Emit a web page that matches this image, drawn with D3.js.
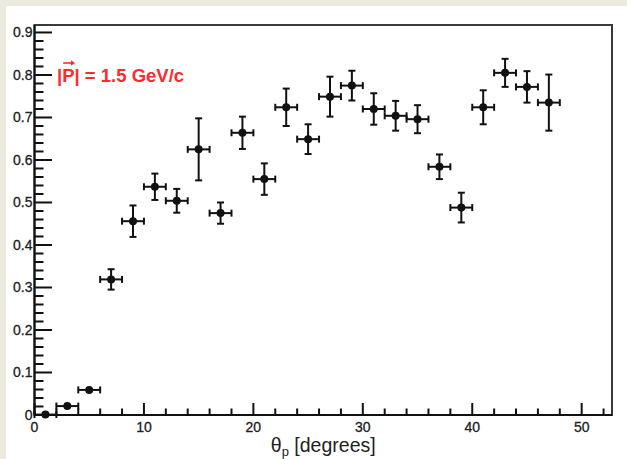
<!DOCTYPE html>
<html>
<head>
<meta charset="utf-8">
<script src="https://cdn.jsdelivr.net/npm/d3@7"></script>
<style>
  html, body { margin: 0; padding: 0; background: #ece9df; }
  svg { display: block; }
</style>
</head>
<body>
<svg id="chart" width="627" height="459"></svg>
<script>
// Polarisation-style ratio vs proton angle, 2-degree bins
const thetaCenters = [1, 3, 5, 7, 9, 11, 13, 15, 17, 19, 21, 23, 25, 27, 29, 31, 33, 35, 37, 39, 41, 43, 45, 47];
const binHalfWidth = [1, 1, 1, 1, 1, 1, 1, 1, 1, 1, 1, 1, 1, 1, 1, 1, 1, 1, 1, 1, 1, 1, 1, 1];
const values = [0.001, 0.021, 0.059, 0.319, 0.456, 0.537, 0.504, 0.625, 0.475, 0.664, 0.555, 0.724,
                0.649, 0.749, 0.775, 0.720, 0.704, 0.696, 0.584, 0.488, 0.724, 0.805, 0.772, 0.735];
const errors = [0.002, 0.004, 0.005, 0.024, 0.037, 0.031, 0.028, 0.073, 0.025, 0.038, 0.037, 0.044,
                0.035, 0.047, 0.035, 0.037, 0.035, 0.033, 0.029, 0.035, 0.040, 0.033, 0.037, 0.066];
const xTickValues = [0, 10, 20, 30, 40, 50];
const yTickValues = [0, 0.1, 0.2, 0.3, 0.4, 0.5, 0.6, 0.7, 0.8, 0.9];
const yTickLabels = ["0", "0.1", "0.2", "0.3", "0.4", "0.5", "0.6", "0.7", "0.8", "0.9"];
const momentumLabel = "|P| = 1.5 GeV/c";

const svg = d3.select("#chart");

// white pad
svg.append("rect").attr("x", 6).attr("y", 6).attr("width", 621).attr("height", 453).attr("fill", "#ffffff");

const frame = { left: 34.5, right: 612, top: 25, bottom: 415 };
const x = d3.scaleLinear().domain([0, 52.77]).range([frame.left, frame.right]);
const y = d3.scaleLinear().domain([0, 0.9176]).range([frame.bottom, frame.top]);

const ink = "#111";
const labelColor = "#222";
const font = "'Liberation Sans', Arial, Helvetica, sans-serif";

// frame
svg.append("rect")
  .attr("x", frame.left).attr("y", frame.top)
  .attr("width", frame.right - frame.left).attr("height", frame.bottom - frame.top)
  .attr("fill", "none").attr("stroke", "#3a3a3a").attr("stroke-width", 2);

// x axis: major every 10, minor every 2 (ticks point inward)
const xMinor = d3.range(0, 53, 2).filter(v => v % 10 !== 0);
const gx = svg.append("g").attr("stroke", ink).attr("stroke-width", 2);
gx.selectAll("line.maj").data(xTickValues).join("line")
  .attr("x1", d => x(d)).attr("x2", d => x(d))
  .attr("y1", frame.bottom).attr("y2", frame.bottom - 12);
gx.selectAll("line.min").data(xMinor).join("line")
  .attr("x1", d => x(d)).attr("x2", d => x(d))
  .attr("y1", frame.bottom).attr("y2", frame.bottom - 6.5);
svg.append("g").selectAll("text").data(xTickValues).join("text")
  .attr("x", d => x(d)).attr("y", frame.bottom + 17)
  .attr("text-anchor", "middle")
  .attr("font-family", font).attr("font-size", 14).attr("fill", labelColor)
  .attr("stroke", labelColor).attr("stroke-width", 0.3)
  .text(d => d);

// y axis: major every 0.1, minor every 0.02
const yMinor = d3.range(1, 46).map(i => i * 0.02).filter((v, i) => (i + 1) % 5 !== 0);
const gy = svg.append("g").attr("stroke", ink).attr("stroke-width", 2);
gy.selectAll("line.maj").data(yTickValues).join("line")
  .attr("x1", frame.left).attr("x2", frame.left + 17.5)
  .attr("y1", d => y(d)).attr("y2", d => y(d));
gy.selectAll("line.min").data(yMinor).join("line")
  .attr("x1", frame.left).attr("x2", frame.left + 9)
  .attr("y1", d => y(d)).attr("y2", d => y(d));
svg.append("g").selectAll("text").data(yTickValues).join("text")
  .attr("x", frame.left - 2).attr("y", d => y(d) + 5)
  .attr("text-anchor", "end")
  .attr("font-family", font).attr("font-size", 14).attr("fill", labelColor)
  .attr("stroke", labelColor).attr("stroke-width", 0.3)
  .text((d, i) => yTickLabels[i]);

// axis lines on top of the frame
svg.append("line").attr("x1", frame.left).attr("x2", frame.left)
  .attr("y1", frame.top).attr("y2", frame.bottom).attr("stroke", ink).attr("stroke-width", 2);
svg.append("line").attr("x1", frame.left).attr("x2", frame.right)
  .attr("y1", frame.bottom).attr("y2", frame.bottom).attr("stroke", ink).attr("stroke-width", 2);

// x axis title
const xTitle = svg.append("text")
  .attr("x", (frame.left + frame.right) / 2).attr("y", 452)
  .attr("text-anchor", "middle")
  .attr("font-family", font).attr("font-size", 19.5).attr("fill", labelColor);
xTitle.append("tspan").text("\u03b8");
xTitle.append("tspan").attr("font-size", 13).attr("dy", 4).text("p");
xTitle.append("tspan").attr("dy", -4).text(" [degrees]");

// data points with error bars
const points = thetaCenters.map((t, i) => ({ t, v: values[i], e: errors[i], w: binHalfWidth[i] }));
const markerR = 4;
const cap = 3.5;
const gp = svg.append("g").attr("stroke", ink).attr("stroke-width", 2).attr("fill", ink);
points.forEach(p => {
  const cx = x(p.t), cy = y(p.v);
  const x0 = x(p.t - p.w), x1 = x(p.t + p.w);
  const yTop = y(p.v + p.e), yBot = y(p.v - p.e);
  // horizontal bar and end caps
  gp.append("line").attr("x1", x0).attr("x2", x1).attr("y1", cy).attr("y2", cy);
  gp.append("line").attr("x1", x0).attr("x2", x0).attr("y1", cy - cap).attr("y2", cy + cap);
  gp.append("line").attr("x1", x1).attr("x2", x1).attr("y1", cy - cap).attr("y2", cy + cap);
  // vertical bar only where it clears the marker
  if (cy - yTop > markerR + 1) {
    gp.append("line").attr("x1", cx).attr("x2", cx).attr("y1", yTop).attr("y2", yBot);
    gp.append("line").attr("x1", cx - cap).attr("x2", cx + cap).attr("y1", yTop).attr("y2", yTop);
    gp.append("line").attr("x1", cx - cap).attr("x2", cx + cap).attr("y1", yBot).attr("y2", yBot);
  }
  gp.append("circle").attr("cx", cx).attr("cy", cy).attr("r", markerR).attr("stroke", "none");
});

// momentum label with vector arrow over P
const red = "#ff2a2a";
const lab = svg.append("text")
  .attr("x", 57).attr("y", 82)
  .attr("font-family", font).attr("font-size", 18.5).attr("font-weight", "bold")
  .attr("fill", red)
  .text(momentumLabel);
const node = lab.node();
const p0 = node.getStartPositionOfChar(1).x;
const p1 = node.getEndPositionOfChar(1).x;
const ay = 63;
svg.append("line").attr("x1", p0 + 1).attr("x2", p1 - 1).attr("y1", ay).attr("y2", ay)
  .attr("stroke", red).attr("stroke-width", 1.6);
svg.append("path")
  .attr("d", `M${p1 + 0.5},${ay} L${p1 - 3.5},${ay - 2.8} L${p1 - 3.5},${ay + 2.8} Z`)
  .attr("fill", red);
</script>
</body>
</html>
